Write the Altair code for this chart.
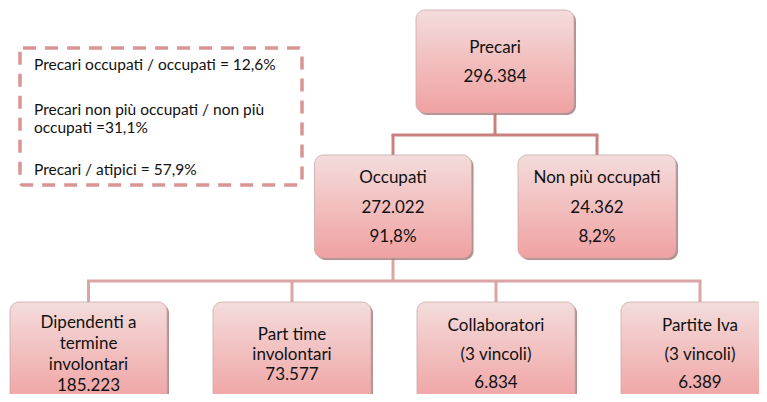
import altair as alt
import pandas as pd

# ---------------- data ----------------
box_titles = [
    "Precari",
    "Occupati",
    "Non più occupati",
    "Dipendenti a\ntermine\ninvolontari",
    "Part time\ninvolontari",
    "Collaboratori\n(3 vincoli)",
    "Partite Iva\n(3 vincoli)",
]
box_counts = ["296.384", "272.022", "24.362", "185.223", "73.577", "6.834", "6.389"]
box_shares = ["", "91,8%", "8,2%", "", "", "", ""]
box_parent = [None, 0, 0, 1, 1, 1, 1]

note_lines = [
    "Precari occupati / occupati = 12,6%",
    "Precari non più occupati / non più",
    "occupati =31,1%",
    "Precari / atipici =  57,9%",
]

# ---------------- layout (diagram geometry) ----------------
box_level = [0, 1, 1, 2, 2, 2, 2]
box_cx = [495, 393, 597, 88.5, 292, 496, 700]
box_w = [158, 157, 158, 157, 158, 158, 158]
level_top = [10, 155, 302]
box_h = 103
line_gap = [29, 29.5, 29.5, 20.7, 20, 28.5, 28.5]
level_join = [135, 281]
note_box = dict(x=20, x2=302, y=48, y2=185)
note_x = 34
note_y = [65, 110, 128, 170]

W, H = 751, 386
xs = alt.Scale(domain=[8, 8 + W], nice=False, zero=False)
ys = alt.Scale(domain=[8, 8 + H], nice=False, zero=False, reverse=True)

# boxes table
rows = []
for i, t in enumerate(box_titles):
    top = level_top[box_level[i]]
    rows.append(dict(x=box_cx[i] - box_w[i] / 2, x2=box_cx[i] + box_w[i] / 2,
                     y=top, y2=top + box_h))
boxes = pd.DataFrame(rows)
shadow = boxes.copy()
shadow[["x", "x2"]] += 2
shadow[["y", "y2"]] += 2

# text lines
trows = []
for i, t in enumerate(box_titles):
    lines = t.split("\n") + [box_counts[i]] + ([box_shares[i]] if box_shares[i] else [])
    top = level_top[box_level[i]]
    cy = top + box_h / 2 + 1
    n = len(lines)
    for k, ln in enumerate(lines):
        trows.append(dict(x=box_cx[i], y=cy + (k - (n - 1) / 2) * line_gap[i], t=ln))
texts = pd.DataFrame(trows)

# connectors
segs = []
colors_lvl = ["#cc7f7f", "#dba5a5"]
for lvl in (0, 1):
    parents = [i for i in range(len(box_titles)) if box_level[i] == lvl and i in box_parent]
    for p in parents:
        kids = [k for k in range(len(box_titles)) if box_parent[k] == p]
        jy = level_join[lvl]
        c = colors_lvl[lvl]
        ptop = level_top[box_level[p]]
        segs.append(dict(x=box_cx[p], x2=box_cx[p], y=ptop + box_h, y2=jy, c=c))
        segs.append(dict(x=min(box_cx[k] for k in kids) - 1.5, x2=max(box_cx[k] for k in kids) + 1.5,
                         y=jy, y2=jy, c=c))
        for k in kids:
            segs.append(dict(x=box_cx[k], x2=box_cx[k], y=jy, y2=level_top[box_level[k]], c=c))
seg_df = pd.DataFrame(segs)

notes = pd.DataFrame(dict(x=[note_x] * len(note_lines), y=note_y, t=note_lines))
nbox = pd.DataFrame([note_box])

grad = alt.Gradient(
    gradient="linear",
    stops=[alt.GradientStop(color="#f4dcdc", offset=0),
           alt.GradientStop(color="#f0a1a1", offset=1)],
    x1=0, x2=0, y1=0, y2=1,
)

enc_rect = dict(x=alt.X("x:Q", scale=xs, axis=None), x2="x2:Q",
                y=alt.Y("y:Q", scale=ys, axis=None), y2="y2:Q")

rules = alt.Chart(seg_df).mark_rule(strokeWidth=3).encode(
    x=alt.X("x:Q", scale=xs, axis=None), x2="x2:Q",
    y=alt.Y("y:Q", scale=ys, axis=None), y2="y2:Q",
    color=alt.Color("c:N", scale=None),
)

shadow_l = alt.Chart(shadow).mark_rect(cornerRadius=9, color="#a97b7b", opacity=0.85).encode(**enc_rect)
box_l = alt.Chart(boxes).mark_rect(cornerRadius=9, fill=grad, stroke="#c9a9a9", strokeWidth=0.8).encode(**enc_rect)

text_l = alt.Chart(texts).mark_text(font="Lato", fontSize=17, color="#111111", baseline="middle").encode(
    x=alt.X("x:Q", scale=xs, axis=None), y=alt.Y("y:Q", scale=ys, axis=None), text="t:N")

nbox_l = alt.Chart(nbox).mark_rect(fillOpacity=0, stroke="#d99594", strokeWidth=3.5,
                                   strokeDash=[13, 9], cornerRadius=3).encode(**enc_rect)
notes_l = alt.Chart(notes).mark_text(font="Lato", fontSize=15.5, color="#111111", align="left",
                                      baseline="middle").encode(
    x=alt.X("x:Q", scale=xs, axis=None), y=alt.Y("y:Q", scale=ys, axis=None), text="t:N")

chart = alt.layer(rules, shadow_l, box_l, text_l, nbox_l, notes_l).properties(
    width=W, height=H, padding=0, autosize=alt.AutoSizeParams(type="none"), background="white"
).configure_view(stroke=None)

chart.save("out.html", embed_options={"renderer": "svg", "actions": False})
